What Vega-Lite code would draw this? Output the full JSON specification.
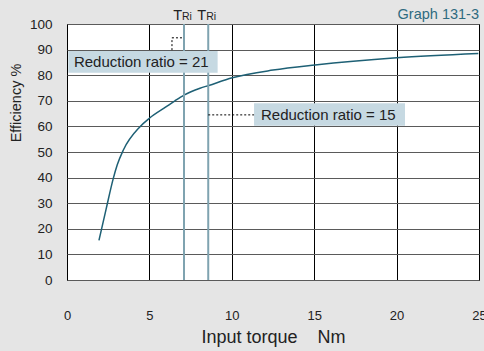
{
  "$schema": "https://vega.github.io/schema/vega-lite/v6.json",
  "width": 412,
  "height": 256,
  "autosize": {"type": "none"},
  "padding": {"left": 67, "top": 24, "right": 5, "bottom": 71},
  "background": "#e5e5e5",
  "config": {
    "view": {"fill": "#ffffff", "stroke": "#000000", "strokeWidth": 1},
    "font": "Liberation Sans",
    "text": {"font": "Liberation Sans"}
  },
  "datasets": {
    "curve": [
      {"x": 1.94, "y": 15.5},
      {"x": 2.37, "y": 27.6},
      {"x": 2.81, "y": 39.7},
      {"x": 3.05, "y": 45.0},
      {"x": 3.42, "y": 50.8},
      {"x": 4.43, "y": 59.9},
      {"x": 5.0, "y": 63.2},
      {"x": 6.0, "y": 67.6},
      {"x": 6.55, "y": 70.0},
      {"x": 7.1, "y": 72.2},
      {"x": 8.07, "y": 74.9},
      {"x": 8.6, "y": 76.0},
      {"x": 10.03, "y": 79.0},
      {"x": 12.5, "y": 82.0},
      {"x": 15.05, "y": 84.0},
      {"x": 20.0, "y": 86.8},
      {"x": 24.96, "y": 88.5}
    ],
    "tlines": [{"x": 7.1, "y": 0, "y2": 100}, {"x": 8.57, "y": 0, "y2": 100}],
    "boxes": [
      {"x": 0.08, "x2": 9.14, "y": 81.0, "y2": 89.45},
      {"x": 11.35, "x2": 20.51, "y": 60.3, "y2": 69.0}
    ],
    "boxlabels": [
      {"x": 0.42, "y": 85.0, "label": "Reduction ratio = 21"},
      {"x": 11.77, "y": 64.4, "label": "Reduction ratio = 15"}
    ],
    "leaders": [
      {"x": 6.37, "x2": 6.37, "y": 89.8, "y2": 94.6},
      {"x": 6.37, "x2": 7.1, "y": 94.6, "y2": 94.6},
      {"x": 8.57, "x2": 11.35, "y": 64.5, "y2": 64.5}
    ],
    "tlabels": [{"x": 7.1, "y": 101.6}, {"x": 8.57, "y": 101.6}],
    "graphlabel": [{"x": 25, "y": 102.0, "label": "Graph 131-3"}]
  },
  "encoding": {
    "x": {
      "field": "x", "type": "quantitative",
      "scale": {"domain": [0, 25], "nice": false},
      "title": "Input torque\u00a0\u00a0\u00a0\u00a0Nm",
      "axis": {
        "values": [0, 5, 10, 15, 20, 25],
        "grid": true, "gridColor": "#000000", "gridOpacity": 1, "gridWidth": 1,
        "ticks": false, "domain": false,
        "labelPadding": 29, "labelFontSize": 13, "labelColor": "#222222",
        "labelFlush": false, "labelOverlap": false, "labelBound": false,
        "labelFont": "Liberation Sans",
        "titleFont": "Liberation Sans", "titleFontSize": 18, "titleFontWeight": "normal",
        "titleColor": "#222222", "titleBaseline": "alphabetic", "titleY": 62.7, "titleX": 206
      }
    },
    "y": {
      "field": "y", "type": "quantitative",
      "scale": {"domain": [0, 100], "nice": false},
      "title": "Efficiency %",
      "axis": {
        "values": [0, 10, 20, 30, 40, 50, 60, 70, 80, 90, 100],
        "grid": true, "gridColor": "#5a5a5a", "gridOpacity": 1, "gridWidth": 1,
        "ticks": false, "domain": false,
        "labelPadding": 15, "labelFontSize": 13.5, "labelColor": "#222222",
        "labelFlush": false, "labelOverlap": false, "labelBound": false,
        "labelFont": "Liberation Sans",
        "titleFont": "Liberation Sans", "titleFontSize": 14.5, "titleFontWeight": "normal",
        "titleColor": "#222222", "titleAngle": -90, "titleAlign": "center",
        "titleBaseline": "alphabetic", "titleX": -46.5, "titleY": 78.5
      }
    }
  },
  "layer": [
    {
      "data": {"name": "curve"},
      "mark": {"type": "line", "interpolate": "monotone", "color": "#1e6075", "strokeWidth": 1.5}
    },
    {
      "data": {"name": "tlines"},
      "mark": {"type": "rule", "color": "#7fa3b0", "strokeWidth": 2},
      "encoding": {"y2": {"field": "y2"}}
    },
    {
      "data": {"name": "boxes"},
      "mark": {"type": "rect", "color": "#c6d9e2"},
      "encoding": {
        "x2": {"field": "x2"},
        "y2": {"field": "y2"}
      }
    },
    {
      "data": {"name": "boxlabels"},
      "mark": {"type": "text", "align": "left", "baseline": "middle", "fontSize": 15, "color": "#222222", "font": "Liberation Sans"},
      "encoding": {"text": {"field": "label"}}
    },
    {
      "data": {"name": "leaders"},
      "mark": {"type": "rule", "color": "#000000", "strokeWidth": 1, "strokeDash": [2, 2]},
      "encoding": {
        "x2": {"field": "x2"},
        "y2": {"field": "y2"}
      }
    },
    {
      "data": {"name": "tlabels"},
      "mark": {"type": "text", "align": "right", "baseline": "alphabetic", "fontSize": 14.5, "dx": -2, "color": "#222222", "font": "Liberation Sans", "text": "T"}
    },
    {
      "data": {"name": "tlabels"},
      "mark": {"type": "text", "align": "left", "baseline": "alphabetic", "fontSize": 10.5, "dx": -2, "color": "#222222", "font": "Liberation Sans", "text": "Ri"}
    },
    {
      "data": {"name": "graphlabel"},
      "mark": {"type": "text", "align": "right", "baseline": "alphabetic", "fontSize": 14.5, "color": "#2e6b80", "font": "Liberation Sans"},
      "encoding": {"text": {"field": "label"}}
    }
  ]
}
